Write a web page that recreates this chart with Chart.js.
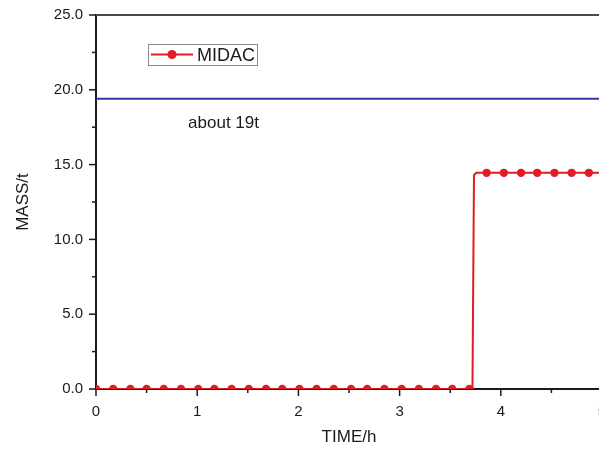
<!DOCTYPE html>
<html>
<head>
<meta charset="utf-8">
<script src="https://cdn.jsdelivr.net/npm/chart.js@4.4.1/dist/chart.umd.min.js"></script>
<style>
  html, body { margin: 0; padding: 0; background: #fff; overflow: hidden; }
  #wrap { width: 640px; height: 451px; }
</style>
</head>
<body>
<div id="wrap"><canvas id="massChart" width="640" height="451"></canvas></div>
<script>
/*
  MIDAC mass over time, with the ~19 t reference level.
  The plot runs past the right edge of the window, like the source figure.
*/
const FONT = "'Liberation Sans', Arial, sans-serif";

// sampled points (these carry the round markers)
const sampleTime = [0, 0.17, 0.34, 0.50, 0.67, 0.84, 1.01, 1.17, 1.34, 1.51, 1.68, 1.84,
  2.01, 2.18, 2.35, 2.52, 2.68, 2.85, 3.02, 3.19, 3.36, 3.52, 3.69,
  3.86, 4.03, 4.20, 4.36, 4.53, 4.70, 4.87, 5.04];
const sampleMass = [0, 0, 0, 0, 0, 0, 0, 0, 0, 0, 0, 0,
  0, 0, 0, 0, 0, 0, 0, 0, 0, 0, 0,
  14.45, 14.45, 14.45, 14.45, 14.45, 14.45, 14.45, 14.45];

// the jump between samples (line only, no markers)
const stepTime = [3.72, 3.735, 3.76];
const stepMass = [0, 14.3, 14.45];

// blue reference level
const limitTime = [0, 5.2];
const limitMass = [19.4, 19.4];

const xTicks = [0, 1, 2, 3, 4, 5];
const xMinorTicks = [0.5, 1.5, 2.5, 3.5, 4.5];
const yTicks = [0, 5, 10, 15, 20, 25];
const yMinorTicks = [2.5, 7.5, 12.5, 17.5, 22.5];

const seriesName = "MIDAC";
const noteText = "about 19t";

const RED = "#e31b23";
const BLUE = "#3434a8";

const toPoints = (xs, ys) => xs.map((x, i) => ({ x, y: ys[i] }));

const linePoints = toPoints(sampleTime, sampleMass)
  .concat(toPoints(stepTime, stepMass))
  .sort((a, b) => a.x - b.x);

// minor + major tick marks, drawn outside the plot
const tickMarks = {
  id: "tickMarks",
  afterDraw(chart) {
    const { ctx, chartArea, scales } = chart;
    ctx.save();
    ctx.strokeStyle = "#1a1a1a";
    ctx.lineWidth = 1.5;
    const ticks = (vals, len, axis) => {
      vals.forEach((v) => {
        ctx.beginPath();
        if (axis === "x") {
          const px = scales.x.getPixelForValue(v);
          ctx.moveTo(px, chartArea.bottom);
          ctx.lineTo(px, chartArea.bottom + len);
        } else {
          const py = scales.y.getPixelForValue(v);
          ctx.moveTo(chartArea.left, py);
          ctx.lineTo(chartArea.left - len, py);
        }
        ctx.stroke();
      });
    };
    ticks(xTicks, 7, "x");
    ticks(xMinorTicks, 4, "x");
    ticks(yTicks, 7, "y");
    ticks(yMinorTicks, 4, "y");

    // top frame
    ctx.strokeStyle = "#4a4a4a";
    ctx.lineWidth = 2;
    ctx.beginPath();
    ctx.moveTo(chartArea.left, chartArea.top);
    ctx.lineTo(chart.width, chartArea.top);
    ctx.stroke();
    ctx.restore();
  },
};

// legend box and the "about 19t" note
const notes = {
  id: "notes",
  afterDraw(chart) {
    const { ctx, scales } = chart;
    ctx.save();

    ctx.fillStyle = "#1a1a1a";
    ctx.font = `17px ${FONT}`;
    ctx.textBaseline = "alphabetic";
    ctx.fillText(noteText, scales.x.getPixelForValue(0.91), scales.y.getPixelForValue(17.45));

    ctx.fillStyle = "#fff";
    ctx.fillRect(148.5, 44.5, 109, 21);
    ctx.strokeStyle = "#8a8a8a";
    ctx.lineWidth = 1;
    ctx.strokeRect(148.5, 44.5, 109, 21);

    ctx.strokeStyle = RED;
    ctx.lineWidth = 2;
    ctx.beginPath();
    ctx.moveTo(151, 54.5);
    ctx.lineTo(193, 54.5);
    ctx.stroke();
    ctx.fillStyle = RED;
    ctx.beginPath();
    ctx.arc(172, 54.5, 4.5, 0, Math.PI * 2);
    ctx.fill();

    ctx.fillStyle = "#1a1a1a";
    ctx.font = `18px ${FONT}`;
    ctx.fillText(seriesName, 197, 61);
    ctx.restore();
  },
};

new Chart(document.getElementById("massChart"), {
  type: "line",
  data: {
    datasets: [
      {
        label: "limit",
        data: toPoints(limitTime, limitMass),
        borderColor: BLUE,
        borderWidth: 2,
        pointRadius: 0,
        tension: 0,
      },
      {
        label: seriesName,
        data: linePoints,
        borderColor: RED,
        borderWidth: 2,
        pointRadius: 0,
        tension: 0,
        clip: 0,
      },
      {
        label: seriesName + " samples",
        data: toPoints(sampleTime, sampleMass),
        showLine: false,
        pointRadius: 4.2,
        pointBackgroundColor: RED,
        pointBorderColor: RED,
        pointBorderWidth: 0,
        clip: 0,
      },
    ],
  },
  options: {
    responsive: false,
    animation: false,
    layout: { padding: { top: 15, right: 38, left: 0, bottom: 0 } },
    plugins: {
      legend: { display: false },
      tooltip: { enabled: false },
    },
    scales: {
      x: {
        type: "linear",
        min: 0,
        max: 5,
        afterFit: (s) => { s.height = 62; },
        afterBuildTicks: (s) => { s.ticks = xTicks.map((v) => ({ value: v })); },
        grid: { display: true, drawOnChartArea: false, drawTicks: true, tickLength: 7, tickColor: "rgba(0,0,0,0)" },
        border: { display: true, color: "#1a1a1a", width: 2 },
        ticks: {
          padding: 7,
          color: "#1a1a1a",
          maxRotation: 0,
          font: { family: FONT, size: 15 },
          callback: (v) => String(v),
        },
        title: {
          display: true,
          text: "TIME/h",
          color: "#1a1a1a",
          font: { family: FONT, size: 17 },
          padding: { top: 0, bottom: 3 },
        },
      },
      y: {
        min: 0,
        max: 25,
        afterFit: (s) => { s.width = 96; },
        afterBuildTicks: (s) => { s.ticks = yTicks.map((v) => ({ value: v })); },
        grid: { display: true, drawOnChartArea: false, drawTicks: true, tickLength: 7, tickColor: "rgba(0,0,0,0)" },
        border: { display: true, color: "#1a1a1a", width: 2 },
        ticks: {
          padding: 6,
          color: "#1a1a1a",
          font: { family: FONT, size: 15 },
          callback: (v) => Number(v).toFixed(1),
        },
        title: {
          display: true,
          text: "MASS/t",
          color: "#1a1a1a",
          font: { family: FONT, size: 17 },
          padding: { top: 13, bottom: 0 },
        },
      },
    },
  },
  plugins: [tickMarks, notes],
});
</script>
</body>
</html>
